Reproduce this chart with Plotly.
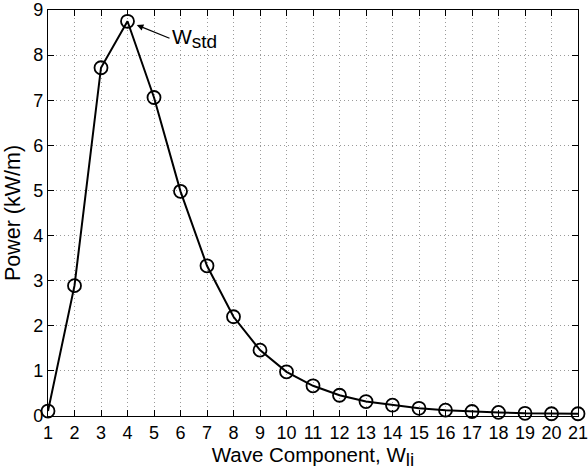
import plotly.graph_objects as go

components = list(range(1, 22))
power = [0.11, 2.89, 7.72, 8.75, 7.06, 4.98, 3.33, 2.20, 1.46, 0.98,
         0.67, 0.46, 0.32, 0.24, 0.17, 0.13, 0.10, 0.08, 0.06, 0.05, 0.05]
x_ticks = list(range(1, 22))
y_ticks = list(range(0, 10))

FONT = "Liberation Sans, Arial, Helvetica, sans-serif"

fig = go.Figure()
fig.add_trace(go.Scatter(
    x=components, y=power, mode="lines+markers",
    line=dict(color="black", width=2),
    marker=dict(symbol="circle-open", size=13, color="black",
                line=dict(width=1.8, color="black")),
    showlegend=False, cliponaxis=False,
))

fig.add_annotation(
    x=4, y=8.75, xref="x", yref="y",
    text="W<sub><span style='font-size:19px'>std</span></sub>", showarrow=True,
    ax=42, ay=17, arrowhead=2, arrowsize=1.1, arrowwidth=1.2,
    arrowcolor="black",
    standoff=10, xanchor="left", yanchor="middle",
    font=dict(family=FONT, size=21, color="black"),
)

axis_common = dict(
    showline=True, linecolor="black", linewidth=1.2, mirror="allticks",
    ticks="inside", ticklen=6, tickcolor="black", tickwidth=1,
    showgrid=True, gridcolor="#9a9a9a", gridwidth=1, griddash="1px,3px",
    zeroline=False, tickfont=dict(family=FONT, size=18, color="black"),
    ticklabeloverflow="allow", automargin=False,
)

fig.update_xaxes(
    range=[1, 21], tickmode="array", tickvals=x_ticks,
    ticktext=[str(v) for v in x_ticks],
    title=dict(text="Wave Component, W<sub><span style='font-size:19px'>li</span></sub>",
               standoff=4,
               font=dict(family=FONT, size=20.5, color="black")),
    **axis_common,
)
fig.update_yaxes(
    range=[0, 9], tickmode="array", tickvals=y_ticks,
    ticktext=[str(v) for v in y_ticks],
    title=dict(text="Power (kW/m)", standoff=6,
               font=dict(family=FONT, size=21.5, color="black")),
    **axis_common,
)

fig.update_layout(
    width=588, height=474,
    margin=dict(l=48, r=10, t=10, b=58, autoexpand=False),
    paper_bgcolor="white", plot_bgcolor="white",
    font=dict(family=FONT, color="black"),
)

fig.write_html("out.html")
